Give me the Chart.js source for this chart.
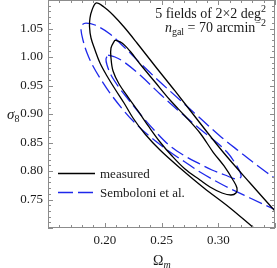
<!DOCTYPE html>
<html>
<head>
<meta charset="utf-8">
<script src="https://cdn.jsdelivr.net/npm/chart.js@4.4.1/dist/chart.umd.min.js"></script>
<style>
  body { margin: 0; background: #fff; }
  canvas { display: block; }
</style>
</head>
<body>
<canvas id="chart" width="277" height="268"></canvas>
<script>
// axis ranges and labelled ticks
const omegaRange = [0.15, 0.35];
const sigmaRange = [0.70, 1.10];
const omegaTicks = [0.20, 0.25, 0.30];
const sigmaTicks = [0.75, 0.80, 0.85, 0.90, 0.95, 1.00, 1.05];

const seriesNames = ["measured", "Semboloni et al."];

// measured, outer contour
const measuredOuterOm = [0.4029, 0.3852, 0.3632, 0.3456, 0.3324, 0.3104, 0.2874, 0.2663, 0.2487, 0.2355, 0.2249, 0.2170, 0.2090, 0.2020, 0.1958, 0.1914, 0.1879, 0.1866, 0.1870, 0.1888, 0.1923, 0.1993, 0.2073, 0.2170, 0.2284, 0.2443, 0.2619, 0.2839, 0.3042, 0.3280, 0.3500, 0.3720, 0.3896, 0.4029];
const measuredOuterS8 = [0.600, 0.6123, 0.6526, 0.6772, 0.6982, 0.7351, 0.7702, 0.8053, 0.8368, 0.8649, 0.8930, 0.9193, 0.9439, 0.9667, 0.9895, 1.0123, 1.0333, 1.0526, 1.0684, 1.0825, 1.0947, 1.0877, 1.0737, 1.0526, 1.0246, 0.9842, 0.9404, 0.8842, 0.8333, 0.7789, 0.7298, 0.6825, 0.6404, 0.600];

// measured, inner contour
const measuredInnerOm = [0.2090, 0.2152, 0.2222, 0.2311, 0.2443, 0.2575, 0.2707, 0.2839, 0.2954, 0.3051, 0.3130, 0.3165, 0.3156, 0.3112, 0.3033, 0.2927, 0.2839, 0.2707, 0.2593, 0.2487, 0.2390, 0.2293, 0.2205, 0.2126, 0.2073, 0.2055, 0.2055, 0.2090];
const measuredInnerS8 = [1.0298, 1.0246, 1.0105, 0.9877, 0.9561, 0.9246, 0.8965, 0.8667, 0.8333, 0.8088, 0.7842, 0.7702, 0.7614, 0.7579, 0.7614, 0.7719, 0.7842, 0.8035, 0.8263, 0.8509, 0.8772, 0.9053, 0.9298, 0.9526, 0.9754, 0.9982, 1.0158, 1.0298];

// Semboloni et al., outer contour
const sembOuterOm = [0.4161, 0.3985, 0.3720, 0.3509, 0.3350, 0.3192, 0.3015, 0.2839, 0.2663, 0.2487, 0.2311, 0.2170, 0.2046, 0.1914, 0.1835, 0.1800, 0.1791, 0.1808, 0.1844, 0.1896, 0.1958, 0.2046, 0.2170, 0.2267, 0.2372, 0.2575, 0.2707, 0.2839, 0.3059, 0.3280, 0.3509, 0.3720, 0.3985, 0.4161];
const sembOuterS8 = [0.7105, 0.7316, 0.7596, 0.7860, 0.8088, 0.8333, 0.8614, 0.8930, 0.9246, 0.9561, 0.9895, 1.0175, 1.0404, 1.0561, 1.0596, 1.0561, 1.0474, 1.0298, 1.0070, 0.9842, 0.9632, 0.9368, 0.9053, 0.8842, 0.8649, 0.8333, 0.8158, 0.7982, 0.7737, 0.7526, 0.7316, 0.7140, 0.7035, 0.7105];

// Semboloni et al., inner contour
const sembInnerOm = [0.2029, 0.2090, 0.2170, 0.2311, 0.2487, 0.2663, 0.2839, 0.2971, 0.3077, 0.3148, 0.3192, 0.3200, 0.3156, 0.3059, 0.2945, 0.2839, 0.2707, 0.2575, 0.2443, 0.2311, 0.2205, 0.2117, 0.2055, 0.2020, 0.2011, 0.2029];
const sembInnerS8 = [1.0035, 1.0000, 0.9912, 0.9684, 0.9351, 0.9035, 0.8737, 0.8526, 0.8333, 0.8140, 0.7982, 0.7895, 0.7860, 0.7930, 0.8018, 0.8123, 0.8263, 0.8439, 0.8702, 0.9000, 0.9263, 0.9491, 0.9684, 0.9860, 0.9965, 1.0035];

const BLUE = "rgb(30,40,235)";
const FRAME = "#8c8c8c";
const SERIF = "'Liberation Serif', 'DejaVu Serif', serif";

function toPoints(xs, ys) {
  return xs.map((x, i) => ({ x: x, y: ys[i] }));
}

function contour(xs, ys, color, dashed) {
  return {
    data: toPoints(xs, ys),
    showLine: true,
    borderColor: color,
    borderWidth: 1.3,
    borderDash: dashed ? [14, 5] : [],
    pointRadius: 0,
    fill: false,
    tension: 0.35,
  };
}

// draws a row of text pieces (sub/superscripts) starting at x, or ending at x
function drawRuns(ctx, runs, x, base, alignRight) {
  let w = 0;
  runs.forEach((r) => { ctx.font = r.font; w += ctx.measureText(r.t).width; });
  let cx = alignRight ? x - w : x;
  runs.forEach((r) => {
    ctx.font = r.font;
    ctx.fillText(r.t, cx, base + (r.dy || 0));
    cx += ctx.measureText(r.t).width;
  });
}

const overlay = {
  id: "overlay",
  afterDraw(chart) {
    const { ctx, chartArea: a } = chart;
    const xs = chart.scales.x, ys = chart.scales.y;
    ctx.save();

    // frame with inward ticks on all four sides
    ctx.strokeStyle = FRAME;
    ctx.lineWidth = 1;
    ctx.strokeRect(a.left + 0.5, a.top + 0.5, a.right - a.left - 1, a.bottom - a.top - 1);
    ctx.beginPath();
    for (let i = 0; i <= 20; i++) {
      const px = Math.round(xs.getPixelForValue(0.15 + i * 0.01)) + 0.5;
      const len = i % 5 === 0 ? 5 : 3;
      ctx.moveTo(px, a.bottom); ctx.lineTo(px, a.bottom - len);
      ctx.moveTo(px, a.top); ctx.lineTo(px, a.top + len);
    }
    for (let i = 0; i <= 40; i++) {
      const py = Math.round(ys.getPixelForValue(0.70 + i * 0.01)) + 0.5;
      const len = i % 5 === 0 ? 5 : 3;
      ctx.moveTo(a.left, py); ctx.lineTo(a.left + len, py);
      ctx.moveTo(a.right, py); ctx.lineTo(a.right - len, py);
    }
    ctx.stroke();

    ctx.fillStyle = "#1a1a1a";
    ctx.textBaseline = "alphabetic";
    ctx.textAlign = "left";

    // axis titles
    drawRuns(ctx, [
      { t: "Ω", font: "14px " + SERIF },
      { t: "m", font: "italic 10px " + SERIF, dy: 3 },
    ], 153, 265, false);
    drawRuns(ctx, [
      { t: "σ", font: "italic 15px " + SERIF },
      { t: "8", font: "10px " + SERIF, dy: 3 },
    ], 7, 119, false);

    // annotation, top right
    drawRuns(ctx, [
      { t: "5 fields of 2×2 deg", font: "14px " + SERIF },
      { t: "2", font: "10px " + SERIF, dy: -6 },
    ], 266, 18, true);
    drawRuns(ctx, [
      { t: "n", font: "italic 14px " + SERIF },
      { t: "gal", font: "10px " + SERIF, dy: 3 },
      { t: " = 70 arcmin", font: "14px " + SERIF },
      { t: "−2", font: "10px " + SERIF, dy: -6 },
    ], 266, 32, true);

    // legend
    ctx.lineWidth = 1.3;
    ctx.strokeStyle = "#000";
    ctx.beginPath(); ctx.moveTo(58, 173.5); ctx.lineTo(95, 173.5); ctx.stroke();
    ctx.strokeStyle = BLUE;
    ctx.setLineDash([15, 5]);
    ctx.beginPath(); ctx.moveTo(58, 192.5); ctx.lineTo(95, 192.5); ctx.stroke();
    ctx.setLineDash([]);
    ctx.font = "13px " + SERIF;
    ctx.fillText(seriesNames[0], 100, 178);
    ctx.fillText(seriesNames[1], 100, 197);

    ctx.restore();
  },
};

new Chart(document.getElementById("chart"), {
  type: "scatter",
  data: {
    datasets: [
      contour(measuredOuterOm, measuredOuterS8, "#000", false),
      contour(measuredInnerOm, measuredInnerS8, "#000", false),
      contour(sembOuterOm, sembOuterS8, BLUE, true),
      contour(sembInnerOm, sembInnerS8, BLUE, true),
    ],
  },
  options: {
    responsive: false,
    animation: false,
    devicePixelRatio: 1,
    layout: { padding: { left: 0, right: 2, top: 0, bottom: 0 } },
    elements: { line: { capBezierPoints: false } },
    plugins: { legend: { display: false }, tooltip: { enabled: false } },
    scales: {
      x: {
        type: "linear",
        min: omegaRange[0],
        max: omegaRange[1],
        grid: { display: false, drawTicks: false },
        border: { display: false },
        afterBuildTicks: (s) => { s.ticks = omegaTicks.map((v) => ({ value: v })); },
        afterFit: (s) => { s.height = 40; s.paddingLeft = 0; s.paddingRight = 0; },
        ticks: {
          padding: 5,
          color: "#1a1a1a",
          font: { family: SERIF, size: 13 },
          callback: (v) => Number(v).toFixed(2),
        },
      },
      y: {
        type: "linear",
        min: sigmaRange[0],
        max: sigmaRange[1],
        grid: { display: false, drawTicks: false },
        border: { display: false },
        afterBuildTicks: (s) => { s.ticks = sigmaTicks.map((v) => ({ value: v })); },
        afterFit: (s) => { s.width = 48; s.paddingTop = 0; s.paddingBottom = 0; },
        ticks: {
          padding: 5,
          color: "#1a1a1a",
          font: { family: SERIF, size: 13 },
          callback: (v) => Number(v).toFixed(2),
        },
      },
    },
  },
  plugins: [overlay],
});
</script>
</body>
</html>
